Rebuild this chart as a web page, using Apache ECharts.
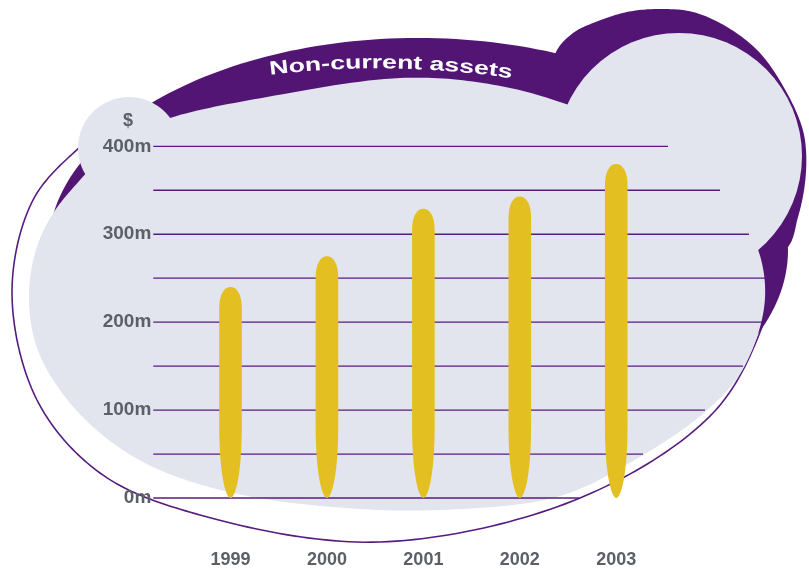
<!DOCTYPE html>
<html>
<head>
<meta charset="utf-8">
<script src="https://cdn.jsdelivr.net/npm/echarts@6/dist/echarts.min.js"></script>
<style>
  html, body { margin: 0; padding: 0; background: #ffffff; }
  #chart { width: 809px; height: 569px; }
</style>
</head>
<body>
<div id="chart"></div>
<script>
// ---- data ----
const years = ['1999', '2000', '2001', '2002', '2003'];
const assetsM = [240, 275, 329, 343, 380];           // non-current assets, $m
const gridValues = [0, 50, 100, 150, 200, 250, 300, 350, 400];
const tickValues = [0, 100, 200, 300, 400];
const tickLabels = ['0m', '100m', '200m', '300m', '400m'];
const unitLabel = '$';
const titleText = 'Non-current assets';

// ---- styling / layout ----
const PURPLE = '#521574';
const PANEL = '#e2e4ee';
const BAR = '#e4bf21';
const RULE = '#561c80';
const LABEL = '#5b5f67';
const FONT = '"Liberation Sans", Arial, Helvetica, sans-serif';

const GRID = { left: 182.3, width: 482.15, top: 146.3, height: 352.4 };
const RULE_START_X = 153.3;
const RULE_END_X = [579, 643, 705, 743, 762, 765, 749, 720, 668];   // right ends follow the panel edge
const BAR_WIDTH = 22.6;

// decorative backdrop: control points for smooth outlines
const RING_PTS = [[108,126],[80,147],[33,200],[12,293],[37,400],[100,473],[200,515],[380,542],
  [580,498],[713,413],[762,327],[778,258]];
const CAP_PTS = [[556,52],[573,33],[593,23],[627,12],[660,9],[693,12],[727,27],[760,53],[787,93],[802,127],
  [806,150],[805,183],[798,217],[785,250],[700,270],[600,170],[550,90]];
const PANEL_PTS = [[400,78],[483,83],[563,103],[690,160],[752,235],[765,298],[743,369],[705,412],[643,455],
  [560,496],[440,510],[333,507],[233,493],[153,467],[100,433],[60,390],[36,345],[29,295],[36,250],[52,215],
  [80,180],[120,140],[170,118],[267,97]];

// centripetal Catmull-Rom, sampled into a dense point list
function smoothCurve(pts, closed, steps) {
  const n = pts.length;
  const get = i => {
    if (closed) return pts[(i + n) % n];
    if (i < 0) return [2 * pts[0][0] - pts[1][0], 2 * pts[0][1] - pts[1][1]];
    if (i >= n) return [2 * pts[n - 1][0] - pts[n - 2][0], 2 * pts[n - 1][1] - pts[n - 2][1]];
    return pts[i];
  };
  const lerp = (a, b, ta, tb, t) => {
    const u = (t - ta) / (tb - ta);
    return [a[0] + (b[0] - a[0]) * u, a[1] + (b[1] - a[1]) * u];
  };
  const knot = (a, b) => Math.pow(Math.hypot(b[0] - a[0], b[1] - a[1]), 0.5) || 1e-6;
  const out = [];
  const segs = closed ? n : n - 1;
  for (let i = 0; i < segs; i++) {
    const p0 = get(i - 1), p1 = get(i), p2 = get(i + 1), p3 = get(i + 2);
    const t0 = 0, t1 = t0 + knot(p0, p1), t2 = t1 + knot(p1, p2), t3 = t2 + knot(p2, p3);
    for (let k = 0; k < steps; k++) {
      const t = t1 + (t2 - t1) * k / steps;
      const a1 = lerp(p0, p1, t0, t1, t), a2 = lerp(p1, p2, t1, t2, t), a3 = lerp(p2, p3, t2, t3, t);
      const b1 = lerp(a1, a2, t0, t2, t), b2 = lerp(a2, a3, t1, t3, t);
      out.push(lerp(b1, b2, t1, t2, t));
    }
  }
  if (!closed) out.push(pts[n - 1]);
  return out;
}

// title set along a gentle arc
const TITLE_PX = 19, TITLE_SX = 1.4;
const ARC = { cx: 378, cy: 958, r: 890, midX: 391 };

function titleGlyphs() {
  const ctx = document.createElement('canvas').getContext('2d');
  const font = 'bold ' + TITLE_PX + 'px ' + FONT;
  ctx.font = font;
  const chars = Array.from(titleText);
  const widths = chars.map(ch => ctx.measureText(ch).width * TITLE_SX);
  const total = widths.reduce((a, b) => a + b, 0);
  const theta0 = Math.asin((ARC.midX - ARC.cx) / ARC.r);
  const rr = ARC.r + 5;
  let s = -total / 2;
  const out = [];
  chars.forEach((ch, i) => {
    const mid = s + widths[i] / 2;
    s += widths[i];
    if (ch === ' ') return;
    const th = theta0 + mid / ARC.r;
    out.push({
      type: 'text', z: 5,
      x: ARC.cx + rr * Math.sin(th),
      y: ARC.cy - rr * Math.cos(th),
      rotation: -th,
      scaleX: TITLE_SX,
      style: {
        text: ch, font: font, fill: '#ffffff',
        textAlign: 'center', textVerticalAlign: 'middle',
        align: 'center', verticalAlign: 'middle'
      }
    });
  });
  return out;
}

function barPath(cx, yt, yb, w) {
  const h = w / 2, dome = 21, taper = 72;
  return [
    'M', cx, yt,
    'C', cx + h * 0.55, yt, cx + h, yt + dome * 0.35, cx + h, yt + dome,
    'L', cx + h, yb - taper,
    'C', cx + h, yb - taper * 0.35, cx + h * 0.45, yb, cx, yb,
    'C', cx - h * 0.45, yb, cx - h, yb - taper * 0.35, cx - h, yb - taper,
    'L', cx - h, yt + dome,
    'C', cx - h, yt + dome * 0.35, cx - h * 0.55, yt, cx, yt,
    'Z'
  ].join(' ');
}

const chart = echarts.init(document.getElementById('chart'), null, { renderer: 'canvas' });

const option = {
  animation: false,
  backgroundColor: '#ffffff',
  grid: GRID,
  xAxis: {
    type: 'category',
    data: years,
    boundaryGap: true,
    z: 20,
    axisLine: { show: false },
    axisTick: { show: false },
    splitLine: { show: false },
    axisLabel: {
      margin: 62, verticalAlign: 'middle',
      fontSize: 18, fontWeight: 'bold', fontFamily: FONT, color: LABEL
    }
  },
  yAxis: {
    type: 'value',
    min: 0, max: 400, interval: 100,
    z: 20,
    axisLine: { show: false },
    axisTick: { show: false },
    splitLine: { show: false },
    axisLabel: {
      margin: 31,
      fontSize: 19, fontWeight: 'bold', fontFamily: FONT, color: LABEL,
      formatter: v => {
        const k = tickValues.indexOf(v);
        return k >= 0 ? tickLabels[k] : '';
      }
    }
  },
  graphic: [
    { type: 'polyline', z: 1, shape: { points: smoothCurve(RING_PTS, false, 24) },
      style: { stroke: RULE, lineWidth: 1.6, fill: null } },
    { type: 'ellipse', z: 2, shape: { cx: 418, cy: 250, rx: 370, ry: 212 }, style: { fill: PURPLE } },
    { type: 'polygon', z: 2, shape: { points: smoothCurve(CAP_PTS, true, 16) }, style: { fill: PURPLE } },
    { type: 'polygon', z: 3, shape: { points: smoothCurve(PANEL_PTS, true, 16) }, style: { fill: PANEL } },
    { type: 'circle', z: 3, shape: { cx: 129, cy: 148, r: 51 }, style: { fill: PANEL } },
    { type: 'circle', z: 3, shape: { cx: 679, cy: 156, r: 123 }, style: { fill: PANEL } },
    { type: 'text', z: 5, x: 128, y: 121.5,
      style: { text: unitLabel, font: 'bold 18px ' + FONT, fill: LABEL,
               textAlign: 'center', textVerticalAlign: 'middle', align: 'center', verticalAlign: 'middle' } }
  ].concat(titleGlyphs()),
  series: [
    {
      name: 'rules',
      type: 'custom',
      z: 10,
      silent: true,
      clip: false,
      data: gridValues.map(v => [0, v]),
      renderItem: (params, api) => {
        const y = api.coord([0, api.value(1)])[1];
        return {
          type: 'line',
          shape: { x1: RULE_START_X, y1: y, x2: RULE_END_X[params.dataIndex], y2: y },
          style: { stroke: RULE, lineWidth: 1.3 }
        };
      }
    },
    {
      name: 'Non-current assets',
      type: 'custom',
      z: 11,
      clip: false,
      data: assetsM.map((v, i) => [i, v]),
      renderItem: (params, api) => {
        const i = api.value(0);
        const base = api.coord([i, 0]);
        const top = api.coord([i, api.value(1)]);
        return {
          type: 'path',
          shape: { pathData: barPath(base[0], top[1], base[1], BAR_WIDTH) },
          style: { fill: BAR }
        };
      }
    }
  ]
};

chart.setOption(option);
</script>
</body>
</html>
